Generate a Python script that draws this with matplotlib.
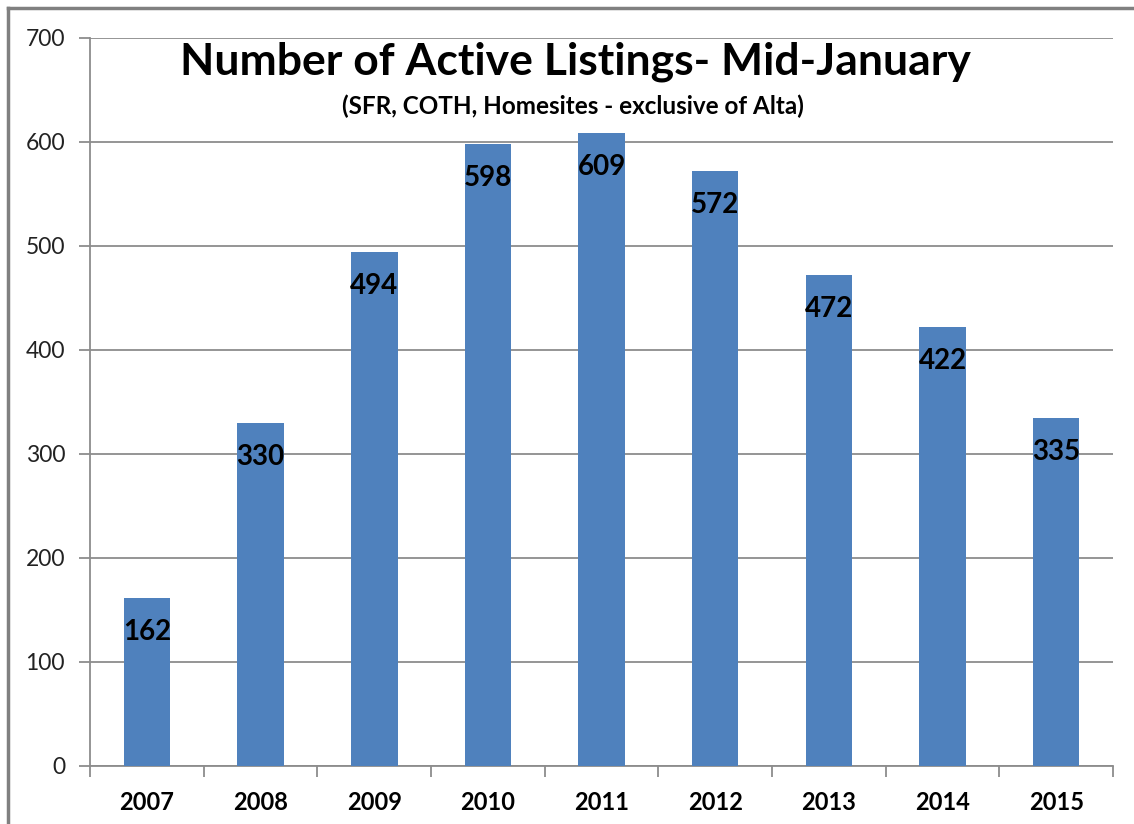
import matplotlib.pyplot as plt
from matplotlib.lines import Line2D

plt.rcParams['font.family'] = ['Lato', 'DejaVu Sans']

years = ['2007', '2008', '2009', '2010', '2011', '2012', '2013', '2014', '2015']
listings = [162, 330, 494, 598, 609, 572, 472, 422, 335]

fig = plt.figure(figsize=(11.34, 8.24), dpi=100)
ax = fig.add_axes([0.0794, 0.0704, 0.9021, 0.8835])

x = list(range(len(years)))
ax.bar(x, listings, width=0.41, color='#4F81BD', zorder=3)

for xi, v in zip(x, listings):
    ax.annotate(str(v), (xi, v), xytext=(0, -24.5), textcoords='offset points',
                ha='center', va='center', fontsize=20, fontweight='bold', color='black', zorder=4)

ax.set_xlim(-0.5, len(years) - 0.5)
ax.set_ylim(0, 700)
ax.set_yticks(range(0, 701, 100))
ax.yaxis.grid(True, color='#8c8c8c', linewidth=1.3, zorder=0)
ax.set_axisbelow(True)

ax.set_xticks(x)
ax.set_xticklabels(years, fontsize=17, fontweight='bold')
ax.set_xticks([i - 0.5 for i in range(len(years) + 1)], minor=True)
ax.tick_params(axis='x', which='major', length=0, pad=18)
ax.tick_params(axis='x', which='minor', length=8, color='#8c8c8c', width=1.3)
ax.tick_params(axis='y', length=8, color='#8c8c8c', width=1.3, labelsize=16.5, pad=10)
for lbl in ax.get_yticklabels():
    lbl.set_color('#222222')

for s in ['top', 'right']:
    ax.spines[s].set_visible(False)
for s in ['left', 'bottom']:
    ax.spines[s].set_color('#8c8c8c')
    ax.spines[s].set_linewidth(1.3)

fig.text(0.507, 0.925, 'Number of Active Listings- Mid-January', ha='center', va='center',
         fontsize=32, fontweight='bold')
fig.text(0.505, 0.871, '(SFR, COTH, Homesites - exclusive of Alta)', ha='center', va='center',
         fontsize=17.5, fontweight='bold')

# outer chart border (top and left edges visible)
bx, by = 8 / 1134, 1 - 8 / 824
fig.add_artist(Line2D([bx, 1.0], [by, by], transform=fig.transFigure, color='#808080', linewidth=2.5))
fig.add_artist(Line2D([bx, bx], [0.0, by], transform=fig.transFigure, color='#808080', linewidth=2.5))

fig.savefig('out.png', dpi=100)
